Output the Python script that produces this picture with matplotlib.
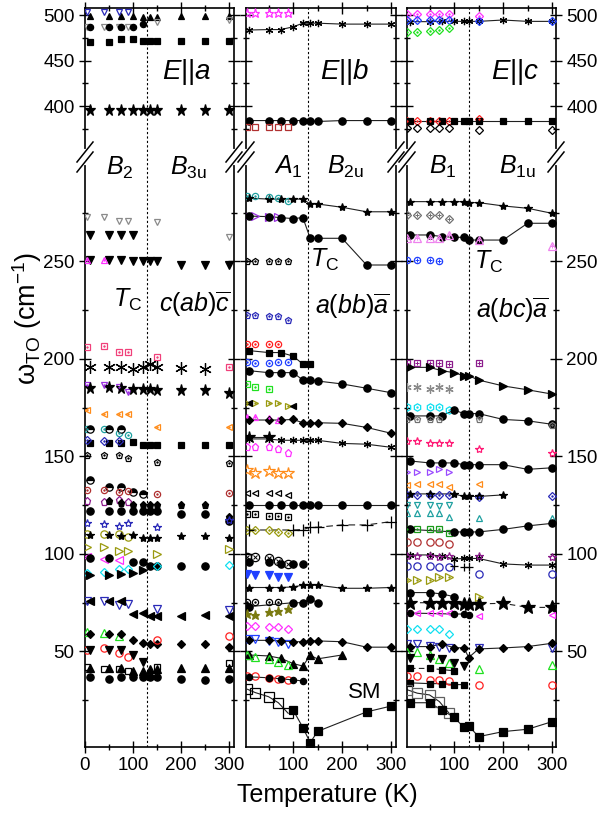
import numpy as np
import matplotlib.pyplot as plt
from matplotlib.lines import Line2D

plt.rcParams['font.family'] = ['Liberation Sans', 'DejaVu Sans']
plt.rcParams['mathtext.fontset'] = 'custom'
plt.rcParams['mathtext.rm'] = 'Liberation Sans'
plt.rcParams['mathtext.it'] = 'Liberation Sans:italic'
plt.rcParams['mathtext.bf'] = 'Liberation Sans:bold'

nan = np.nan

# ---------------- E||a  (B2 / B3u) ----------------
Ta = [10, 50, 75, 100, 120, 135, 150, 200, 250, 300]
Ta_o = [5, 40, 70, 90, 150, 300]

a_tri_499 = [499, 499, 499, 499, 498, 498, 498, 499, 499, 499]
a_vo_503 = [503, 503, 503, 503, nan, nan]
a_vo_488 = [487, 487, 487, 487, 492, 494]
a_c_488 = [487, 487, 487, 487, 490, nan, nan, nan, nan, nan]
a_sq_472 = [470, 470, 474, 474, 471, 471, 471, 471, 471, 471]
a_star_396 = [396, 396, 396, 396, 396, 396, 396, 396, 396, 396]
a_vo_272 = [273, 273, 271, 271, 270, 262.5]
a_v_264 = [263.5, 263.5, 263.5, 263.5, nan, nan, nan, nan, nan, nan]
a_v_250 = [251, 251, 251, 250, 250, 250, 250, 248, 248, 248]
a_to_251 = [251, 250.7, nan, nan, nan, nan]
a_so_205 = [206, 206.8, 203.7, 203.7, 200.9, 196]
a_ast_196 = [196, 196, 196, 195, 196, 197.5, 196, 195.5, 195, nan]
a_vo_186 = [186.7, 186.7, 185.5, 183, nan, nan]
a_star_185 = [185, 185.5, 185, 184.5, 184.5, 184.5, 184, 184, 184, 182.5]
a_lo_172 = [173.8, 172, 172, 172, 165, 165]
a_co_163 = [164, 164, 162, 161, nan, nan]
a_ch_164 = [164, 164, 164, nan, nan, nan, nan, nan, nan, nan]
a_sq_157 = [157, 157, 157, 157.5, 156, 156, 156, 156, 156, 156]
a_do_158 = [158.5, 158, 158, nan, nan, nan]
a_po_150 = [151, 151, 150.7, 149.4, 147.3, 146.5]
a_ch_135 = [138, 134.5, 134.5, 132, 130.7, nan, nan, nan, nan, nan]
a_co_132 = [132.8, 132.8, 131.9, 132.5, 131, 131.5]
a_po_127 = [127.3, 126.8, 127.7, 126.5, nan, nan]
a_p_125 = [nan, 127, 126, 125, 125, 125, 125, 125, 125, 119]
a_c_122 = [122, 122, 122, 122, 122, 122, 122, 120.5, 120.5, 117]
a_stro_116 = [115.7, 115.2, 114.4, 116, 114, 117.4]
a_co_110 = [110, 110, 110, 108.8, nan, nan]
a_star_109 = [109.7, 109.7, 109, 109.7, 108, 108, 108, 109.4, 109.4, 108]
a_ro_103 = [103.7, 103.7, 101.5, 101.5, 100, 102.4]
a_lo_98 = [98.6, 97.3, 97, nan, nan, nan]
a_c_96 = [98, 98, nan, 96, 96, 94, 94, 94, 94, nan]
a_do_91 = [90, 90.5, 92.2, 92.2, 93.8, 94.3]
a_r_90 = [89.2, 89.2, 89.5, 90, 91.8, nan, nan, nan, nan, nan]
a_vo_75 = [76, 76, 74, 74.2, 72, 71.4]
a_l_70 = [76, 76, 76, 69, 69.5, 68, 68, 68, 68.5, 68]
a_to_59 = [60, 59.6, 57.9, nan, nan, nan]
a_d_56 = [58.8, 58.8, 58.8, 55.9, 54.5, 53.7, 53.7, 53.7, 53.7, 52.5]
a_co_51 = [51, 51.9, 49.3, 47.3, 55.9, 58]
a_v_49 = [50.8, 50.5, 50.8, 48.2, 44.4, nan, nan, nan, nan, nan]
a_so_42 = [42.2, 41.2, 40.8, 40.1, 41.8, 44.3]
a_t_41 = [41.4, 41.4, 41.4, 40.1, 40.1, 40.8, 40.8, 41.6, 41.6, 41.6]
a_c_36 = [36.7, 36.1, 36.7, 36.7, 36.7, 36.7, 36.7, 36.1, 35.3, 36.1]

# ---------------- E||b  (A1 / B2u) ----------------
Tb = [10, 50, 75, 100, 120, 135, 150, 200, 250, 300]
Tb_o = [7, 23, 50, 70, 90]

b_stro_502 = [502.5, 502.5, 502.5, 502.5, 502.5]
b_ast_488 = [483.5, 484, 484, 487, 491, 491, 491, 490, 490, 490]
b_c_384 = [384, 384, 384, 384, 384, 384, 383, 384, 384, 384]
b_so_377 = [376.6, 376.6, 376.6, 376.6, 376.6]
b_co_283 = [283.6, 283.6, 283.2, 282.4, 281.2]
b_star_280 = [282.5, 282, 282, 282, 282, 279.5, 279.5, 277.8, 275.5, 275.5]
b_ro_273 = [273.3, 273.3, 272.9, 272.9, nan]
b_c_270 = [273.3, 273, 272.5, 272, 272.5, 261.9, 261.9, 261.9, 248.2, 248.2]
b_po_250 = [250.4, 250.4, 250.4, 250.4, 250.4]
b_po_222 = [222.6, 222.6, 222, 222, 220.1]
b_co_208 = [207.7, 207.7, 207.7, 207.7, nan]
b_sq_202 = [204.3, 203.3, 203.3, 201.5, 197.4, 197.4, nan, nan, nan, nan]
b_co_198 = [198.6, 197.7, 197.7, 198.6, 198.6]
b_c_190 = [194, 193, 193, 193, 189.2, 189.2, 188.7, 187.2, 185, 182.7]
b_so_186 = [187.2, 185.5, 184.5, nan, nan]
b_ro_177 = [177.6, 177.6, 177.6, 177.6, 175.9]
b_l_177 = [177.6, nan, nan, 176, nan, nan, nan, nan, nan, nan]
b_to_169 = [170, 170, 169.5, 168.6, nan]
b_d_167 = [168.7, 168.7, 168.7, 169, 167.3, 167, 167.3, 167, 164.9, 161.9]
b_star_160 = [160.2, 160.2, nan, nan, nan, nan, nan, nan, nan, nan]
b_ast_158 = [159, 159, 158.3, 158.3, 158.3, 158.3, 158.3, 156.7, 156.3, 154.7]
b_po_154 = [154.7, 154.7, 154.7, 153.6, 151.6]
b_stro_142 = [143, 141.7, 142.3, 141.3, 141.3]
b_lo_131 = [131.4, 131.4, 131.4, 131.4, 130]
b_c_125 = [125.1, 125.1, 125.1, 125.1, 125.1, 125.1, 125.1, 125.1, 125.1, 125.1]
b_so_120 = [120.5, 120.5, 119.5, 119.5, 118.8]
b_do_112 = [112.3, 112.3, 112.3, 111.5, 111]
b_plus_114 = [112.3, nan, nan, 112.3, 112.5, 113.7, 113.7, 114.9, 114.9, 116.6]
b_xo_97 = [98.3, 98.3, 97.8, 96.5, 95.1]
b_c_95 = [96, 96, 95, 95, 95, nan, nan, nan, nan, nan]
b_v_89 = [89.5, 89.2, 89.2, 88, 88]
b_star_83 = [82.8, 82.8, 82.8, 83.1, 84, 84, 84, 82.4, 82.4, 82.8]
b_co_75 = [75.5, 75.5, 75.5, 75.5, nan]
b_c_75 = [73, nan, nan, 75, 75, 77, 75, nan, nan, nan]
b_star_70 = [69.2, 68.7, 70, 71, 71.8]
b_do_62 = [63.1, 63.1, 62.3, 62.3, 61.6]
b_vo_55 = [56.3, 56.3, 55.4, 54.9, 54]
b_d_55 = [55.7, 55.7, 55.4, 55, 55, 55.4, 55.4, 55, 52.2, 52.2]
b_t_46 = [48.2, 47.7, 46.5, 43.8, 42.5, 48, 46.2, 48.2, nan, nan]
b_to_46 = [48.2, 47.3, 45.9, 44.7, 43]
b_co_36 = [37.4, 37.4, 36.6, 36, 35.4]
b_c_36 = [37, 36.5, 36, 35.4, 34.9, nan, nan, nan, nan, nan]
b_so_25 = [30.6, 28.9, 26.8, 23.7, 18.3]
b_sq_sm = [nan, nan, nan, 20, 11, 3.2, 9, nan, 19, 22]

# ---------------- E||c  (B1 / B1u) ----------------
Tc = [10, 50, 75, 100, 120, 130, 150, 200, 250, 300]
Tc_o = [5, 25, 50, 70, 90, 150, 300]

c_do_501 = [501, 501, 501, 501, 501, 499, nan]
c_ast_493 = [492.7, 492.7, 493, 493, 493, 493, 493, 494.5, 493, 493]
c_do_494 = [494.5, 494.5, 494.5, 494.5, 494.5, 493, 493]
c_do_482 = [481.7, 481.7, 482.5, 483.3, 486, nan, nan]
c_do_384 = [384, 384, 384, 384, 384, 385.3, nan]
c_sq_383 = [383, 383, 383, 383, 383, 383, 383, 383, 383, 383]
c_do_375 = [375.5, 375.5, 375.5, 375.5, 375.5, 373.6, 373.6]
c_star_280 = [280.7, 280.7, 280.7, 280.7, 280.7, 280.2, 280.2, 278.5, 277.3, 274.7]
c_dp_273 = [274, 274, 274, 274, 272, nan, nan]
c_c_263 = [263.6, 263.6, 262.8, 262.4, 262.4, 261, 261, 261, 269.6, 269.6]
c_tp_262 = [261.9, 261.9, 261.9, 261.9, 263.6, 261, 257.9]
c_cp_251 = [250.8, 250.8, 250.8, 250.2, nan, nan, nan]
c_sp_198 = [198.1, 198.1, 198.1, 198.1, 197.4, 197.8, nan]
c_r_190 = [195.7, 195.7, 194, 193, 191.4, 191.4, 189.2, 186.2, 184.2, 182]
c_ast_185 = [185.5, 185.5, 184.5, 185.5, 184.5, nan, nan]
c_ho_175 = [175.2, 175.2, 175.2, 175.2, 173.8, nan, nan]
c_c_171 = [170.8, 170.8, 170.8, 173.8, 172, 172, 172, 169, 168.3, 166.5]
c_po_169 = [169, 169, 169, 169, nan, 169, 166.2]
c_stro_157 = [158, 158, 156.8, 156.8, 156.8, 153.8, 151.9]
c_c_146 = [147.7, 146.7, 146.7, 146.7, 145.8, 145.8, 145.8, 145.8, 143.4, 144.2]
c_ro_142 = [142.2, 142.2, 142.2, 143.4, 142.2, nan, nan]
c_lo_135 = [135.4, 136, 136, 136, 134.5, 135.7, nan]
c_do_130 = [130.3, 130.3, 130.3, 130.3, 130.3, 129.1, 129.5]
c_star_130 = [130.8, 130.8, nan, 130.8, 129.5, 129.5, 129.5, 130.3, nan, nan]
c_vo_125 = [125.1, 125.1, 125.1, 124.8, 125.1, nan, nan]
c_to_120 = [120.9, 120.9, 120.9, 120.9, 119.2, 118.5, 118.5]
c_so_112 = [112.6, 112.6, 112.6, 112.6, 111, nan, nan]
c_c_113 = [112.6, nan, nan, 111.3, 111.3, 111.3, 111.3, 112.6, 114.4, 115.7]
c_co_106 = [106.3, 106.3, 106.3, 106.3, 105, nan, nan]
c_ast_98 = [99.5, 99.5, 99, 97.4, 97.7, 97.7, 97.7, 94.9, 94.3, 94.3]
c_stro_99 = [99, 99, 99, 98.5, 98.8, 98.8, 98.3]
c_co_94 = [94, 94, 94, 93.4, 93.4, 89.5, 89.5]
c_plus_93 = [nan, nan, nan, 93.7, 93.5, 93.5, nan, nan, nan, nan]
c_ro_87 = [86.7, 86.7, 86.7, 88.4, 88, 78.1, nan]
c_c_80 = [80.2, 80.2, 79.5, 78.1, nan, nan, nan, nan, nan, nan]
c_bstar_74 = [75, 75, 75, 75, 74.4, 74.4, 74.4, 74.7, 72.6, 72.6]
c_lo_70 = [69.9, 69.9, 69.9, 69.9, 69.9, 68.2, 68.5]
c_c_69 = [69.7, nan, nan, 69.2, 69.2, 68.7, nan, nan, nan, nan]
c_do_61 = [61.7, 61.7, 61.7, 61.7, 59.2, nan, nan]
c_vo_53 = [53.8, 53.8, 53, 52.2, 51.8, 51.8, 52]
c_d_52 = [52.5, 52.5, 53.8, 51.9, 51.9, 46.9, 51.3, 51.8, 52.5, 54.2]
c_to_48 = [49.9, 49.9, 48.2, 46, 44, 40.9, 43.2]
c_v_45 = [46.9, 46.4, 45.9, 44.3, 42.6, nan, nan, nan, nan, nan]
c_sq_41 = [41.3, 41.3, 40.7, 40.1, nan, nan, nan, nan, nan, nan]
c_co_36 = [37.4, 37.4, 35.6, 35.6, 34.7, 32.8, 32.8]
c_sq_33 = [33.9, 33.5, 33.5, 33, 33, nan, nan, nan, nan, nan]
c_so_26 = [30.3, 28.6, 27.7, 24.3, 18.3, nan, nan]
c_sq_sm = [23.7, 23.7, 20, 16.2, 11.1, 11.8, 6.3, 8.9, 10.1, 14]

# colours
NAVY = '#2a2ab8'
GRAY = '#8a8a8a'
MAG = '#ff30ff'
PINK = '#f0407a'
PURP = '#9a30e0'
ORNG = '#ff8c1a'
TEAL = '#1fa0a0'
DRED = '#b03030'
OLIV = '#9a9a10'
CYAN = '#10e0f0'
GRN = '#20e020'
RED = '#ff2020'
BLUE = '#2040ff'
DPURP = '#8b1a8b'
ASTER = (6, 2, 0)

# (T, values, marker, colour, fill, size, line style, inner mark)
series_a = [
    (Ta, a_tri_499, '^', 'k', 'full', 6, None, None),
    (Ta_o, a_vo_503, 'v', NAVY, 'none', 6, None, None),
    (Ta_o, a_vo_488, 'v', GRAY, 'none', 6, None, None),
    (Ta, a_c_488, 'o', 'k', 'full', 6, None, None),
    (Ta, a_sq_472, 's', 'k', 'full', 5.5, None, None),
    (Ta, a_star_396, '*', 'k', 'full', 11, None, None),
    (Ta_o, a_vo_272, 'v', GRAY, 'none', 6, None, None),
    (Ta, a_v_264, 'v', 'k', 'full', 7, None, None),
    (Ta, a_v_250, 'v', 'k', 'full', 7, None, None),
    (Ta_o, a_to_251, '^', MAG, 'none', 6, None, '.'),
    (Ta_o, a_so_205, 's', PINK, 'none', 6, None, '.'),
    (Ta, a_ast_196, ASTER, 'k', 'full', 12, None, None),
    (Ta_o, a_vo_186, 'v', PURP, 'none', 6, None, '.'),
    (Ta, a_star_185, '*', 'k', 'full', 11, None, None),
    (Ta_o, a_lo_172, '<', ORNG, 'none', 6, None, '.'),
    (Ta_o, a_co_163, 'o', TEAL, 'none', 6, None, '.'),
    (Ta, a_ch_164, 'o', 'k', 'half', 7, None, None),
    (Ta, a_sq_157, 's', 'k', 'full', 6, None, None),
    (Ta_o, a_do_158, 'D', NAVY, 'none', 5, None, '.'),
    (Ta_o, a_po_150, 'p', 'k', 'none', 6, None, '.'),
    (Ta, a_ch_135, 'o', 'k', 'half', 7, None, None),
    (Ta_o, a_co_132, 'o', DRED, 'none', 6, None, '.'),
    (Ta_o, a_po_127, 'p', DPURP, 'none', 7, None, None),
    (Ta, a_p_125, 'p', 'k', 'full', 7, None, None),
    (Ta, a_c_122, 'o', 'k', 'full', 7, None, None),
    (Ta_o, a_stro_116, '*', NAVY, 'none', 8, None, None),
    (Ta_o, a_co_110, 'o', OLIV, 'none', 7, None, None),
    (Ta, a_star_109, '*', 'k', 'full', 8, None, None),
    (Ta_o, a_ro_103, '>', OLIV, 'none', 7, None, None),
    (Ta_o, a_lo_98, '<', MAG, 'none', 7, None, None),
    (Ta, a_c_96, 'o', 'k', 'full', 7, None, None),
    (Ta_o, a_do_91, 'D', CYAN, 'none', 6, None, None),
    (Ta, a_r_90, '>', 'k', 'full', 7, None, None),
    (Ta_o, a_vo_75, 'v', NAVY, 'none', 7, None, None),
    (Ta, a_l_70, '<', 'k', 'full', 7, None, None),
    (Ta_o, a_to_59, '^', GRN, 'none', 7, None, None),
    (Ta, a_d_56, 'D', 'k', 'full', 6, None, None),
    (Ta_o, a_co_51, 'o', RED, 'none', 7, None, None),
    (Ta, a_v_49, 'v', 'k', 'full', 7, None, None),
    (Ta_o, a_so_42, 's', 'k', 'none', 6, None, None),
    (Ta, a_t_41, '^', 'k', 'full', 7, None, None),
    (Ta, a_c_36, 'o', 'k', 'full', 7, None, None),
]

series_b = [
    (Tb_o, b_stro_502, '*', MAG, 'none', 9, None, None),
    (Tb, b_ast_488, ASTER, 'k', 'full', 7, '-', None),
    (Tb, b_c_384, 'o', 'k', 'full', 7, '-', None),
    (Tb_o, b_so_377, 's', DRED, 'none', 6, None, None),
    (Tb_o, b_co_283, 'o', TEAL, 'none', 6, None, '.'),
    (Tb, b_star_280, '*', 'k', 'full', 8, '-', None),
    (Tb_o, b_ro_273, '>', PURP, 'none', 7, None, None),
    (Tb, b_c_270, 'o', 'k', 'full', 7, '-', None),
    (Tb_o, b_po_250, 'p', 'k', 'none', 6, None, '.'),
    (Tb_o, b_po_222, 'p', NAVY, 'none', 6, None, '.'),
    (Tb_o, b_co_208, 'o', RED, 'none', 6, None, '.'),
    (Tb, b_sq_202, 's', 'k', 'full', 6, '-', None),
    (Tb_o, b_co_198, 'o', BLUE, 'none', 6, None, '.'),
    (Tb, b_c_190, 'o', 'k', 'full', 7, '-', None),
    (Tb_o, b_so_186, 's', GRN, 'none', 6, None, '.'),
    (Tb_o, b_ro_177, '>', OLIV, 'none', 6, None, '.'),
    (Tb, b_l_177, '<', 'k', 'full', 6, None, None),
    (Tb_o, b_to_169, '^', MAG, 'none', 6, None, '.'),
    (Tb, b_d_167, 'D', 'k', 'full', 6, '-', None),
    (Tb, b_star_160, '*', 'k', 'full', 12, '-', None),
    (Tb, b_ast_158, ASTER, 'k', 'full', 7, '-', None),
    (Tb_o, b_po_154, 'p', MAG, 'none', 7, None, None),
    (Tb_o, b_stro_142, '*', ORNG, 'none', 12, None, None),
    (Tb_o, b_lo_131, '<', 'k', 'none', 6, None, None),
    (Tb, b_c_125, 'o', 'k', 'full', 7, '-', None),
    (Tb_o, b_so_120, 's', 'k', 'none', 5.5, None, '.'),
    (Tb_o, b_do_112, 'D', OLIV, 'none', 6, None, '.'),
    (Tb, b_plus_114, '+', 'k', 'full', 11, (0, (6, 4)), None),
    (Tb_o, b_xo_97, 'o', 'k', 'none', 8, None, 'x'),
    (Tb, b_c_95, 'o', 'k', 'full', 7, None, None),
    (Tb_o, b_v_89, 'v', BLUE, 'full', 7, None, None),
    (Tb, b_star_83, '*', 'k', 'full', 8, '-', None),
    (Tb_o, b_co_75, 'o', 'k', 'none', 6, None, '.'),
    (Tb, b_c_75, 'o', 'k', 'full', 7, '-', None),
    (Tb_o, b_star_70, '*', '#7a7a10', 'full', 9, None, None),
    (Tb_o, b_do_62, 'D', MAG, 'none', 6, None, None),
    (Tb_o, b_vo_55, 'v', BLUE, 'none', 7, None, None),
    (Tb, b_d_55, 'D', 'k', 'full', 6, '-', None),
    (Tb, b_t_46, '^', 'k', 'full', 7, '-', None),
    (Tb_o, b_to_46, '^', GRN, 'none', 7, None, None),
    (Tb_o, b_co_36, 'o', RED, 'none', 7, None, None),
    (Tb, b_c_36, 'o', 'k', 'full', 6, '-', None),
    (Tb_o, b_so_25, 's', 'k', 'none', 10, '-', None),
    (Tb, b_sq_sm, 's', 'k', 'full', 7, '-', None),
]

series_c = [
    (Tc_o, c_do_501, 'D', MAG, 'none', 6, None, '.'),
    (Tc, c_ast_493, ASTER, 'k', 'full', 7, '-', None),
    (Tc_o, c_do_494, 'D', BLUE, 'none', 6, None, '.'),
    (Tc_o, c_do_482, 'D', GRN, 'none', 6, None, '.'),
    (Tc_o, c_do_384, 'D', RED, 'none', 6, None, '.'),
    (Tc, c_sq_383, 's', 'k', 'full', 6, '-', None),
    (Tc_o, c_do_375, 'D', 'k', 'none', 5, None, None),
    (Tc, c_star_280, '*', 'k', 'full', 8, '-', None),
    (Tc_o, c_dp_273, 'D', '#707070', 'none', 6, None, '+'),
    (Tc, c_c_263, 'o', 'k', 'full', 7, '-', None),
    (Tc_o, c_tp_262, '^', '#ee82ee', 'none', 7, None, '+'),
    (Tc_o, c_cp_251, 'o', BLUE, 'none', 6, None, '+'),
    (Tc_o, c_sp_198, 's', DPURP, 'none', 6, None, '+'),
    (Tc, c_r_190, '>', 'k', 'full', 7, '-', None),
    (Tc_o, c_ast_185, ASTER, GRAY, 'full', 8, None, None),
    (Tc_o, c_ho_175, 'h', CYAN, 'none', 7, None, '.'),
    (Tc, c_c_171, 'o', 'k', 'full', 7, '-', None),
    (Tc_o, c_po_169, 'p', '#707070', 'none', 6, None, '.'),
    (Tc_o, c_stro_157, '*', '#ff1a75', 'none', 8, None, None),
    (Tc, c_c_146, 'o', 'k', 'full', 7, '-', None),
    (Tc_o, c_ro_142, '>', '#9a4bff', 'none', 6, None, None),
    (Tc_o, c_lo_135, '<', ORNG, 'none', 6, None, None),
    (Tc_o, c_do_130, 'D', NAVY, 'none', 6, None, '.'),
    (Tc, c_star_130, '*', 'k', 'full', 8, '-', None),
    (Tc_o, c_vo_125, 'v', TEAL, 'none', 6, None, None),
    (Tc_o, c_to_120, '^', TEAL, 'none', 6, None, None),
    (Tc_o, c_so_112, 's', '#1a9a1a', 'none', 6, None, '.'),
    (Tc, c_c_113, 'o', 'k', 'full', 7, '-', None),
    (Tc_o, c_co_106, 'o', DRED, 'none', 7, None, None),
    (Tc, c_ast_98, ASTER, 'k', 'full', 7, '-', None),
    (Tc_o, c_stro_99, '*', DPURP, 'none', 8, None, None),
    (Tc_o, c_co_94, 'o', NAVY, 'none', 7, None, None),
    (Tc, c_plus_93, '+', 'k', 'full', 8, None, None),
    (Tc_o, c_ro_87, '>', OLIV, 'none', 7, None, '.'),
    (Tc, c_c_80, 'o', 'k', 'full', 7, '-', None),
    (Tc, c_bstar_74, '*', 'k', 'full', 14, (0, (5, 4)), None),
    (Tc_o, c_lo_70, '<', MAG, 'none', 6, None, None),
    (Tc, c_c_69, 'o', 'k', 'full', 6, '-', None),
    (Tc_o, c_do_61, 'D', CYAN, 'none', 6, None, None),
    (Tc_o, c_vo_53, 'v', NAVY, 'none', 7, None, None),
    (Tc, c_d_52, 'D', 'k', 'full', 6, '-', None),
    (Tc_o, c_to_48, '^', GRN, 'none', 7, None, None),
    (Tc, c_v_45, 'v', 'k', 'full', 7, None, None),
    (Tc, c_sq_41, 's', 'k', 'full', 6, (0, (5, 3)), None),
    (Tc_o, c_co_36, 'o', RED, 'none', 7, None, None),
    (Tc, c_sq_33, 's', 'k', 'full', 6, '-', None),
    (Tc_o, c_so_26, 's', '#606060', 'none', 10, '-', None),
    (Tc, c_sq_sm, 's', 'k', 'full', 7, '-', None),
]

# broken y axis: 0..303.6 at full scale, 344..508 compressed
LB, UB, K = 303.6, 344.0, 0.4667
XP = np.array([-1e4, LB, UB, 1e4])
FP = np.array([-1e4, LB, LB + 0.01, LB + 0.01 + (1e4 - UB) * K])


def fwd(v):
    return np.interp(np.asarray(v, float), XP, FP)


def inv(y):
    return np.interp(np.asarray(y, float), FP, XP)


MS = 0.75  # overall marker scale


def put(ax, T, vals, mk, col, fill, ms, line, inner):
    T = np.asarray(T, float)
    v = np.asarray(vals, float)
    ok = ~np.isnan(v)
    if line is not None:
        ax.plot(T[ok], v[ok], ls=line, color='#202020', lw=0.8, zorder=2)
    kw = dict(ls='none', marker=mk, ms=ms * MS, mec=col, mew=0.9, zorder=3)
    if fill == 'full':
        kw['mfc'] = col
    elif fill == 'half':
        kw.update(fillstyle='top', mfc=col, markerfacecoloralt='white')
    else:
        kw['mfc'] = 'none'
    ax.plot(T[ok], v[ok], **kw)
    if inner is not None:
        ax.plot(T[ok], v[ok], ls='none', marker=inner, ms=2 if inner == '.' else 3.5,
                color=col, mew=0.7, zorder=4)


W, H = 599, 815
fig = plt.figure(figsize=(W / 100, H / 100), dpi=100)

TOP, BOT = 8, 747
panels = [(85, 234, (0, 310), [0, 100, 200, 300], series_a),
          (246, 396, (4, 310), [100, 200, 300], series_b),
          (407, 556, (4, 308), [100, 200, 300], series_c)]

axes = []
for i, (x0, x1, xl, xt, series) in enumerate(panels):
    ax = fig.add_axes([x0 / W, 1 - BOT / H, (x1 - x0) / W, (BOT - TOP) / H])
    ax.set_yscale('function', functions=(fwd, inv))
    ax.set_ylim(1, 507.7)
    ax.set_xlim(*xl)
    for s in series:
        put(ax, *s)
    ax.axvline(130, color='k', lw=0.8, ls=(0, (2, 2)), zorder=1)
    ax.set_yticks([50, 100, 150, 200, 250, 400, 450, 500])
    ax.set_yticks([25, 75, 125, 175, 225, 275, 375, 425, 475], minor=True)
    ax.set_xticks(xt)
    ax.set_xticks([50, 150, 250], minor=True)
    ax.tick_params(which='both', direction='inout', top=True, right=True,
                   labelsize=13.5, width=1, pad=3)
    ax.tick_params(which='major', length=9)
    ax.tick_params(which='minor', length=5)
    ax.tick_params(labelleft=(i == 0), labelright=(i == 2))
    for sp in ax.spines.values():
        sp.set_linewidth(1.2)
    axes.append(ax)

# break marks on every vertical spine
for x in [85, 234, 246, 396, 407, 556]:
    fig.add_artist(Line2D([x / W, x / W], [1 - 151 / H, 1 - 163 / H],
                          color='white', lw=3, transform=fig.transFigure, zorder=10))
    for yc in (152, 162):
        fig.add_artist(Line2D([(x - 8) / W, (x + 8) / W],
                              [1 - (yc + 10) / H, 1 - (yc - 10) / H],
                              color='k', lw=1.1, transform=fig.transFigure, zorder=11))


def label(x, y, s, size=18, **kw):
    fig.text(x / W, 1 - y / H, s, ha='center', va='center', fontsize=size, **kw)


label(187, 72, r'$E$||$a$', 20)
label(345, 72, r'$E$||$b$', 20)
label(515, 72, r'$E$||$c$', 20)
label(120, 168, r'$B_2$')
label(188, 168, r'$B_{\mathrm{3u}}$')
label(288, 167, r'$A_1$')
label(345, 167, r'$B_{\mathrm{2u}}$')
label(443, 167, r'$B_1$')
label(517, 167, r'$B_{\mathrm{1u}}$')
label(128, 300, r'$T_{\mathrm{C}}$')
label(325, 260, r'$T_{\mathrm{C}}$')
label(489, 262, r'$T_{\mathrm{C}}$')
label(195, 304, r'$c$($ab$)$\overline{c}$')
label(352, 306, r'$a$($bb$)$\overline{a}$')
label(512, 310, r'$a$($bc$)$\overline{a}$')
label(365, 692, 'SM', 16)

label(327, 795, 'Temperature (K)', 18)
label(27, 318, r'ω$_{\mathrm{TO}}$ (cm$^{-1}$)', 19.5, rotation=90)

fig.savefig('out.png', dpi=100)
